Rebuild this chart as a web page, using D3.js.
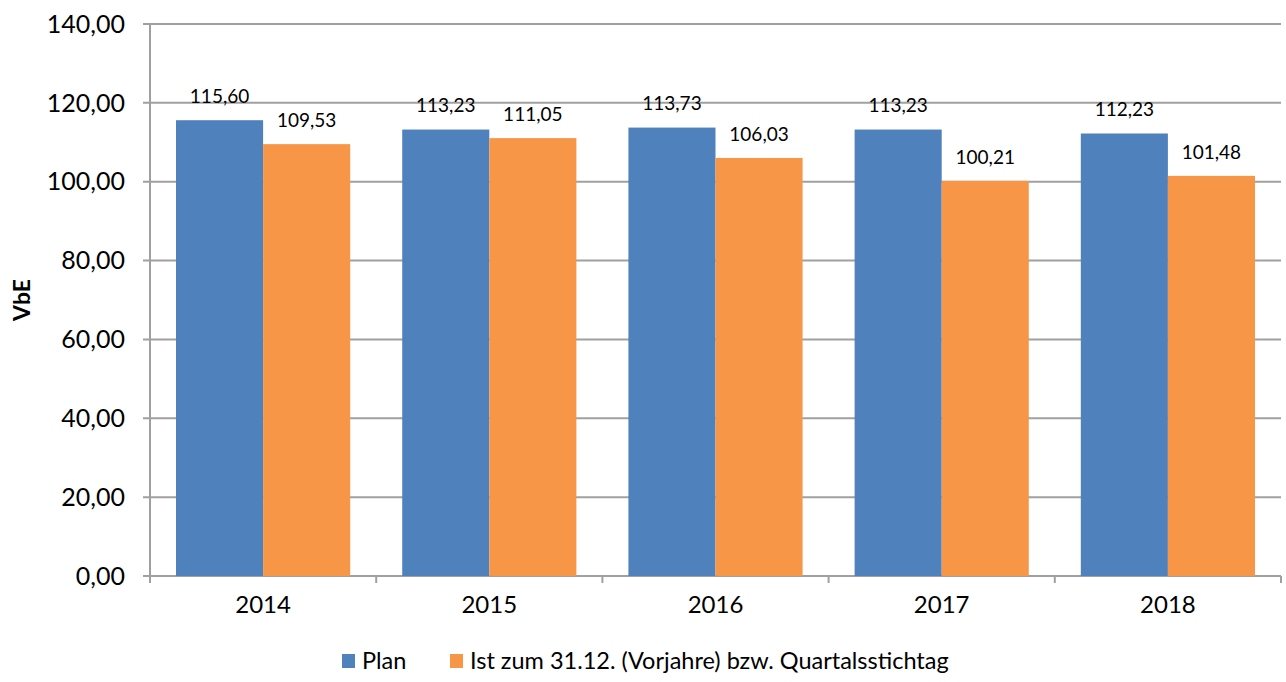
<!DOCTYPE html>
<html>
<head>
<meta charset="utf-8">
<script src="https://cdn.jsdelivr.net/npm/d3@7"></script>
<style>
  body { margin: 0; background: #fff; }
  svg text { font-family: Lato, "Open Sans", sans-serif; fill: #000; }
</style>
</head>
<body>
<div id="chart"></div>
<script>
// Plan vs. Ist per year (VbE)
const years = ['2014', '2015', '2016', '2017', '2018'];
const planValues = [115.60, 113.23, 113.73, 113.23, 112.23];
const istValues = [109.53, 111.05, 106.03, 100.21, 101.48];
const seriesNames = ['Plan', 'Ist zum 31.12. (Vorjahre) bzw. Quartalsstichtag'];
const yTicks = [0, 20, 40, 60, 80, 100, 120, 140];

const width = 1286, height = 682;
const margin = { top: 24, right: 5, bottom: 106, left: 150 };
const colors = ['#4F81BD', '#F79646'];
const fmt = (v) => v.toFixed(2).replace('.', ',');

const svg = d3.select('#chart').append('svg')
  .attr('width', width).attr('height', height);

const x = d3.scaleBand().domain(years)
  .range([margin.left, width - margin.right])
  .paddingInner(0.23).paddingOuter(0.115);
const xSub = d3.scaleBand().domain([0, 1]).range([0, x.bandwidth()]);
const y = d3.scaleLinear().domain([0, 140]).range([height - margin.bottom, margin.top]);

// gridlines
svg.append('g').selectAll('line').data(yTicks).join('line')
  .attr('x1', margin.left - 7).attr('x2', width - margin.right)
  .attr('y1', (d) => y(d)).attr('y2', (d) => y(d))
  .attr('stroke', '#A0A0A0').attr('stroke-width', 2);

// y axis labels
svg.append('g').selectAll('text').data(yTicks).join('text')
  .attr('x', 125).attr('y', (d) => y(d)).attr('dy', '0.35em')
  .attr('text-anchor', 'end').style('font-size', '25px')
  .text(fmt);

// bars
const data = years.map((yr, i) => ({ yr, vals: [planValues[i], istValues[i]] }));
const grp = svg.append('g').selectAll('g').data(data).join('g')
  .attr('transform', (d) => `translate(${x(d.yr)},0)`);
grp.selectAll('rect').data((d) => d.vals).join('rect')
  .attr('x', (d, i) => xSub(i)).attr('width', xSub.bandwidth())
  .attr('y', (d) => y(d)).attr('height', (d) => y(0) - y(d))
  .attr('fill', (d, i) => colors[i]);
grp.selectAll('text').data((d) => d.vals).join('text')
  .attr('x', (d, i) => xSub(i) + xSub.bandwidth() / 2)
  .attr('y', (d) => y(d) - 24).attr('dy', '0.35em')
  .attr('text-anchor', 'middle').style('font-size', '19px')
  .text(fmt);

// axes lines
svg.append('line')
  .attr('x1', margin.left).attr('x2', margin.left)
  .attr('y1', margin.top).attr('y2', y(0) + 7)
  .attr('stroke', '#A0A0A0').attr('stroke-width', 2);
svg.append('g').selectAll('line').data(d3.range(1, years.length + 1)).join('line')
  .attr('x1', (d) => margin.left + (width - margin.right - margin.left) * d / years.length)
  .attr('x2', (d) => margin.left + (width - margin.right - margin.left) * d / years.length)
  .attr('y1', y(0)).attr('y2', y(0) + 7)
  .attr('stroke', '#A0A0A0').attr('stroke-width', 2);

// x labels
svg.append('g').selectAll('text').data(years).join('text')
  .attr('x', (d) => x(d) + x.bandwidth() / 2).attr('y', 613)
  .attr('text-anchor', 'middle').style('font-size', '24px')
  .text((d) => d);

// y title
svg.append('text')
  .attr('transform', `translate(22,${(margin.top + y(0)) / 2}) rotate(-90)`)
  .attr('dy', '0.35em').attr('text-anchor', 'middle')
  .style('font-size', '23px').style('font-weight', 'bold')
  .text('VbE');

// legend
const legendX = [342, 450];
const lg = svg.append('g').selectAll('g').data(seriesNames).join('g')
  .attr('transform', (d, i) => `translate(${legendX[i]},661)`);
lg.append('rect').attr('x', 0).attr('y', -7).attr('width', 13).attr('height', 14)
  .attr('fill', (d, i) => colors[i]);
lg.append('text').attr('x', 20).attr('dy', '0.35em')
  .style('font-size', '23.5px').text((d) => d);
</script>
</body>
</html>
